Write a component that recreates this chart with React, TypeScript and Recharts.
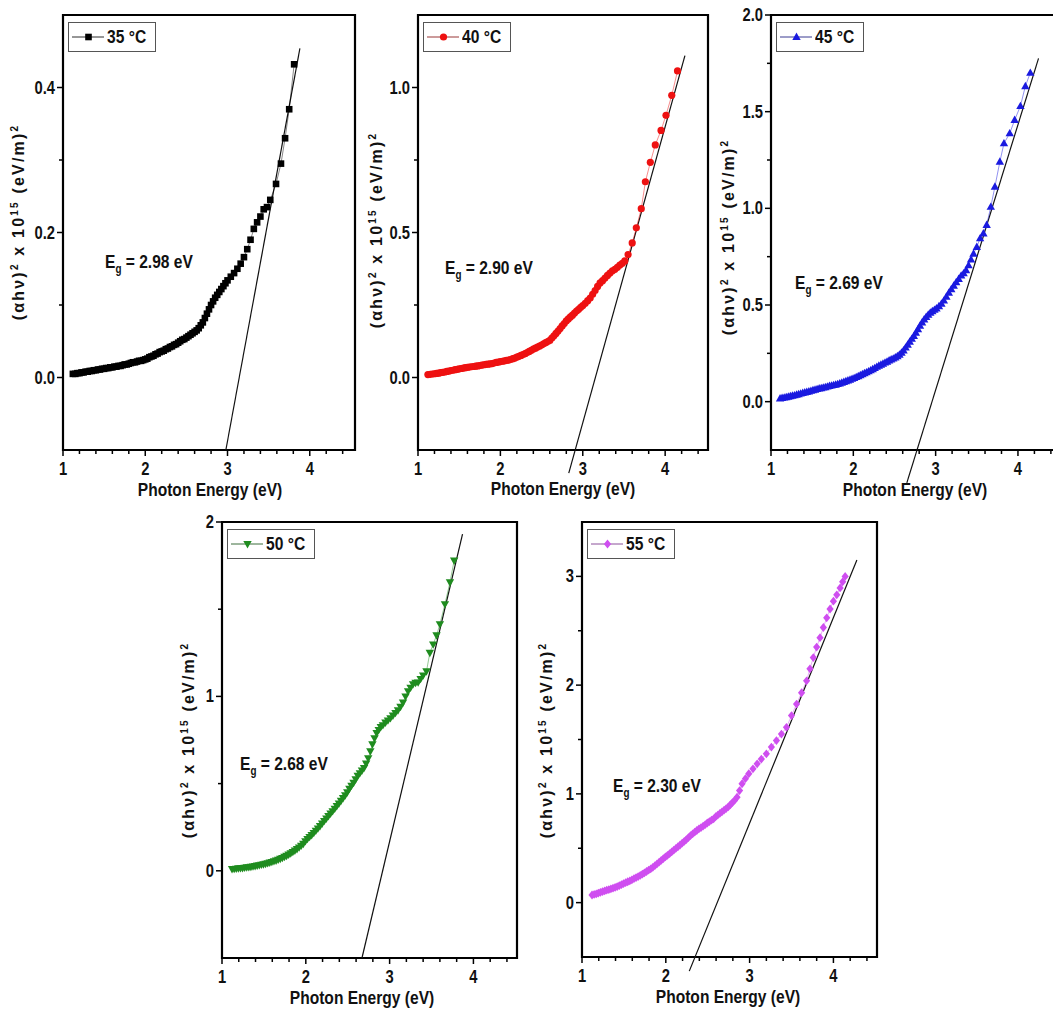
import { ScatterChart, Scatter, XAxis, YAxis, ReferenceLine, ReferenceArea, Legend } from "recharts"

const FONT = "'Liberation Sans', Arial, sans-serif"
const NARROW = 0.82

// [photon energy (eV), (αhν)² x 10^15]
const s35: [number, number][] = [
  [1.12, 0.005], [1.15, 0.005], [1.175, 0.006], [1.2, 0.006], [1.225, 0.007], [1.25, 0.007], [1.275, 0.008], [1.3, 0.008],
  [1.325, 0.009], [1.35, 0.009], [1.375, 0.01], [1.4, 0.01], [1.425, 0.011], [1.45, 0.011], [1.475, 0.012], [1.5, 0.012],
  [1.525, 0.013], [1.55, 0.013], [1.575, 0.014], [1.6, 0.014], [1.625, 0.015], [1.65, 0.015], [1.675, 0.016], [1.7, 0.016],
  [1.725, 0.017], [1.75, 0.018], [1.775, 0.018], [1.8, 0.019], [1.825, 0.02], [1.85, 0.021], [1.875, 0.021], [1.9, 0.022],
  [1.925, 0.023], [1.95, 0.023], [1.975, 0.024], [2.0, 0.025], [2.025, 0.026], [2.05, 0.028], [2.075, 0.029], [2.1, 0.03],
  [2.125, 0.032], [2.15, 0.033], [2.175, 0.035], [2.2, 0.036], [2.225, 0.037], [2.25, 0.039], [2.275, 0.04], [2.3, 0.042],
  [2.325, 0.043], [2.35, 0.045], [2.375, 0.046], [2.4, 0.048], [2.425, 0.05], [2.45, 0.052], [2.475, 0.053], [2.5, 0.055],
  [2.525, 0.057], [2.55, 0.059], [2.575, 0.061], [2.6, 0.063], [2.625, 0.065], [2.65, 0.068], [2.675, 0.072], [2.7, 0.076],
  [2.725, 0.082], [2.75, 0.088], [2.775, 0.094], [2.8, 0.1], [2.825, 0.105], [2.85, 0.11], [2.875, 0.114], [2.9, 0.118],
  [2.925, 0.122], [2.95, 0.126], [2.975, 0.13], [3.0, 0.134], [3.04, 0.139], [3.08, 0.144], [3.12, 0.15], [3.16, 0.157],
  [3.2, 0.166], [3.24, 0.177], [3.28, 0.19], [3.32, 0.205], [3.36, 0.214], [3.4, 0.222], [3.44, 0.232], [3.48, 0.235],
  [3.52, 0.245], [3.59, 0.267], [3.65, 0.295], [3.7, 0.33], [3.75, 0.37], [3.81, 0.432],
]

const s40: [number, number][] = [
  [1.12, 0.01], [1.15, 0.011], [1.175, 0.012], [1.2, 0.013], [1.225, 0.014], [1.25, 0.015], [1.275, 0.017], [1.3, 0.018],
  [1.325, 0.019], [1.35, 0.021], [1.375, 0.022], [1.4, 0.024], [1.425, 0.025], [1.45, 0.027], [1.475, 0.028], [1.5, 0.03],
  [1.525, 0.031], [1.55, 0.032], [1.575, 0.034], [1.6, 0.035], [1.625, 0.036], [1.65, 0.037], [1.675, 0.038], [1.7, 0.039],
  [1.725, 0.04], [1.75, 0.041], [1.775, 0.043], [1.8, 0.044], [1.825, 0.045], [1.85, 0.046], [1.875, 0.047], [1.9, 0.048],
  [1.925, 0.05], [1.95, 0.052], [1.975, 0.053], [2.0, 0.055], [2.025, 0.056], [2.05, 0.057], [2.075, 0.059], [2.1, 0.06],
  [2.125, 0.062], [2.15, 0.065], [2.175, 0.067], [2.2, 0.07], [2.225, 0.073], [2.25, 0.076], [2.275, 0.079], [2.3, 0.082],
  [2.325, 0.086], [2.35, 0.09], [2.375, 0.094], [2.4, 0.098], [2.425, 0.101], [2.45, 0.105], [2.475, 0.108], [2.5, 0.112],
  [2.525, 0.116], [2.55, 0.12], [2.575, 0.124], [2.6, 0.128], [2.625, 0.136], [2.65, 0.144], [2.675, 0.152], [2.7, 0.16],
  [2.725, 0.169], [2.75, 0.178], [2.775, 0.186], [2.8, 0.195], [2.825, 0.202], [2.85, 0.209], [2.875, 0.215], [2.9, 0.222],
  [2.925, 0.229], [2.95, 0.235], [2.975, 0.242], [3.0, 0.248], [3.03, 0.256], [3.06, 0.265], [3.09, 0.274], [3.12, 0.287],
  [3.15, 0.3], [3.18, 0.314], [3.21, 0.326], [3.24, 0.334], [3.27, 0.343], [3.3, 0.352], [3.33, 0.36], [3.36, 0.368],
  [3.39, 0.373], [3.42, 0.38], [3.45, 0.388], [3.48, 0.394], [3.51, 0.402], [3.55, 0.424], [3.6, 0.464], [3.65, 0.516],
  [3.71, 0.582], [3.76, 0.675], [3.82, 0.742], [3.88, 0.802], [3.95, 0.852], [4.01, 0.904], [4.08, 0.973], [4.15, 1.057],
]

const s45: [number, number][] = [
  [1.11, 0.017], [1.135, 0.019], [1.16, 0.021], [1.185, 0.023], [1.21, 0.026], [1.235, 0.028], [1.26, 0.031], [1.285, 0.033],
  [1.31, 0.036], [1.335, 0.039], [1.36, 0.042], [1.385, 0.045], [1.41, 0.048], [1.435, 0.05], [1.46, 0.053], [1.485, 0.056],
  [1.51, 0.059], [1.535, 0.062], [1.56, 0.065], [1.585, 0.068], [1.61, 0.07], [1.635, 0.073], [1.66, 0.075], [1.685, 0.078],
  [1.71, 0.081], [1.735, 0.083], [1.76, 0.086], [1.785, 0.088], [1.81, 0.091], [1.835, 0.094], [1.86, 0.098], [1.885, 0.102],
  [1.91, 0.106], [1.935, 0.11], [1.96, 0.114], [1.985, 0.118], [2.01, 0.122], [2.035, 0.127], [2.06, 0.132], [2.085, 0.137],
  [2.11, 0.142], [2.135, 0.147], [2.16, 0.152], [2.185, 0.157], [2.21, 0.162], [2.235, 0.168], [2.26, 0.174], [2.285, 0.18],
  [2.31, 0.186], [2.335, 0.191], [2.36, 0.196], [2.385, 0.202], [2.41, 0.207], [2.435, 0.213], [2.46, 0.218], [2.485, 0.223],
  [2.51, 0.229], [2.535, 0.235], [2.56, 0.243], [2.585, 0.253], [2.61, 0.265], [2.635, 0.28], [2.66, 0.295], [2.685, 0.31],
  [2.71, 0.325], [2.735, 0.34], [2.76, 0.357], [2.785, 0.375], [2.81, 0.393], [2.835, 0.41], [2.86, 0.425], [2.885, 0.438],
  [2.91, 0.45], [2.935, 0.46], [2.96, 0.468], [2.985, 0.475], [3.01, 0.482], [3.04, 0.494], [3.07, 0.507], [3.1, 0.523],
  [3.13, 0.543], [3.16, 0.563], [3.19, 0.582], [3.22, 0.6], [3.25, 0.618], [3.28, 0.635], [3.31, 0.652], [3.34, 0.664],
  [3.37, 0.68], [3.4, 0.705], [3.43, 0.735], [3.46, 0.765], [3.5, 0.8], [3.54, 0.845], [3.58, 0.87], [3.62, 0.914],
  [3.67, 1.008], [3.72, 1.112], [3.78, 1.241], [3.83, 1.336], [3.9, 1.388], [3.96, 1.457], [4.03, 1.529], [4.09, 1.632],
  [4.15, 1.701],
]

const s50: [number, number][] = [
  [1.12, 0.01], [1.145, 0.011], [1.17, 0.012], [1.195, 0.014], [1.22, 0.015], [1.245, 0.016], [1.27, 0.018], [1.295, 0.02],
  [1.32, 0.021], [1.345, 0.023], [1.37, 0.025], [1.395, 0.027], [1.42, 0.03], [1.445, 0.032], [1.47, 0.035], [1.495, 0.037],
  [1.52, 0.04], [1.545, 0.044], [1.57, 0.047], [1.595, 0.051], [1.62, 0.055], [1.645, 0.059], [1.67, 0.064], [1.695, 0.069],
  [1.72, 0.074], [1.745, 0.08], [1.77, 0.086], [1.795, 0.093], [1.82, 0.1], [1.845, 0.108], [1.87, 0.116], [1.895, 0.125],
  [1.92, 0.134], [1.945, 0.144], [1.97, 0.155], [1.995, 0.17], [2.02, 0.183], [2.045, 0.194], [2.07, 0.205], [2.095, 0.217],
  [2.12, 0.23], [2.145, 0.243], [2.17, 0.257], [2.195, 0.271], [2.22, 0.286], [2.245, 0.3], [2.27, 0.314], [2.295, 0.328],
  [2.32, 0.342], [2.345, 0.356], [2.37, 0.371], [2.395, 0.386], [2.42, 0.401], [2.445, 0.417], [2.47, 0.433], [2.495, 0.45],
  [2.52, 0.47], [2.545, 0.488], [2.57, 0.505], [2.595, 0.525], [2.62, 0.545], [2.645, 0.56], [2.67, 0.575], [2.695, 0.59],
  [2.72, 0.615], [2.745, 0.645], [2.77, 0.685], [2.795, 0.725], [2.82, 0.76], [2.845, 0.79], [2.87, 0.808], [2.895, 0.825],
  [2.92, 0.835], [2.95, 0.85], [2.98, 0.862], [3.01, 0.875], [3.04, 0.89], [3.07, 0.905], [3.1, 0.92], [3.13, 0.94],
  [3.16, 0.965], [3.19, 1.0], [3.22, 1.03], [3.25, 1.05], [3.28, 1.07], [3.31, 1.078], [3.34, 1.08], [3.37, 1.1],
  [3.4, 1.12], [3.44, 1.144], [3.48, 1.25], [3.52, 1.298], [3.56, 1.35], [3.6, 1.414], [3.66, 1.529], [3.72, 1.654],
  [3.77, 1.779],
]

const s55: [number, number][] = [
  [1.12, 0.07], [1.145, 0.075], [1.17, 0.08], [1.195, 0.088], [1.22, 0.095], [1.245, 0.102], [1.27, 0.108], [1.295, 0.115],
  [1.32, 0.12], [1.345, 0.127], [1.37, 0.133], [1.395, 0.14], [1.42, 0.148], [1.445, 0.156], [1.47, 0.165], [1.495, 0.174],
  [1.52, 0.183], [1.545, 0.192], [1.57, 0.2], [1.595, 0.21], [1.62, 0.22], [1.645, 0.23], [1.67, 0.24], [1.695, 0.25],
  [1.72, 0.262], [1.745, 0.274], [1.77, 0.286], [1.795, 0.298], [1.82, 0.31], [1.845, 0.325], [1.87, 0.34], [1.895, 0.356],
  [1.92, 0.372], [1.945, 0.388], [1.97, 0.404], [1.995, 0.42], [2.02, 0.435], [2.045, 0.45], [2.07, 0.466], [2.095, 0.482],
  [2.12, 0.498], [2.145, 0.514], [2.17, 0.53], [2.195, 0.547], [2.22, 0.563], [2.245, 0.58], [2.27, 0.598], [2.295, 0.617],
  [2.32, 0.633], [2.345, 0.648], [2.37, 0.663], [2.395, 0.678], [2.42, 0.69], [2.445, 0.703], [2.47, 0.717], [2.495, 0.732],
  [2.52, 0.745], [2.545, 0.758], [2.57, 0.77], [2.595, 0.79], [2.62, 0.805], [2.645, 0.82], [2.67, 0.835], [2.695, 0.85],
  [2.72, 0.865], [2.745, 0.88], [2.77, 0.9], [2.795, 0.92], [2.82, 0.94], [2.85, 0.97], [2.88, 1.03], [2.91, 1.093],
  [2.95, 1.14], [2.99, 1.185], [3.04, 1.23], [3.09, 1.276], [3.14, 1.32], [3.2, 1.368], [3.26, 1.43], [3.32, 1.49],
  [3.38, 1.55], [3.44, 1.612], [3.5, 1.72], [3.56, 1.826], [3.62, 1.93], [3.68, 2.04], [3.72, 2.15], [3.76, 2.253],
  [3.8, 2.35], [3.84, 2.436], [3.88, 2.53], [3.92, 2.619], [3.96, 2.7], [4.0, 2.772], [4.04, 2.83], [4.08, 2.894],
  [4.11, 2.95], [4.14, 3.0],
]

// linear fits (two end points each)
const fit35 = [[2.98, -0.1], [3.88, 0.454]]
const fit40 = [[2.83, -0.33], [4.24, 1.11]]
const fit45 = [[2.65, -0.42], [4.25, 1.776]]
const fit50 = [[2.67, -0.5], [3.87, 1.93]]
const fit55 = [[2.28, -0.63], [4.28, 3.15]]

const xTicks = [1, 1.2, 1.4, 1.6, 1.8, 2, 2.2, 2.4, 2.6, 2.8, 3, 3.2, 3.4, 3.6, 3.8, 4, 4.2, 4.4]
const yTicks35 = [0, 0.1, 0.2, 0.3, 0.4]
const yTicks40 = [0, 0.25, 0.5, 0.75, 1.0]
const yTicks45 = [0, 0.25, 0.5, 0.75, 1.0, 1.25, 1.5, 1.75, 2.0]
const yTicks50 = [0, 0.5, 1, 1.5, 2]
const yTicks55 = [0, 0.5, 1, 1.5, 2, 2.5, 3]
const yMajor35 = [0, 0.2, 0.4]
const yMajor40 = [0, 0.5, 1.0]
const yMajor45 = [0, 0.5, 1.0, 1.5, 2.0]
const yMajor50 = [0, 1, 2]
const yMajor55 = [0, 1, 2, 3]

const toPoints = (pts: [number, number][]) => pts.map(([x, y]) => ({ x, y }))

function Marker({ kind, cx, cy, color }: { kind: string; cx: number; cy: number; color: string }) {
  if (kind === "square") return <rect x={cx - 3.3} y={cy - 3.3} width={6.6} height={6.6} fill={color} />
  if (kind === "circle") return <circle cx={cx} cy={cy} r={3.6} fill={color} />
  if (kind === "up") return <polygon points={`${cx},${cy - 4.4} ${cx + 4.2},${cy + 3} ${cx - 4.2},${cy + 3}`} fill={color} />
  if (kind === "down") return <polygon points={`${cx},${cy + 4.4} ${cx + 4.2},${cy - 3} ${cx - 4.2},${cy - 3}`} fill={color} />
  return <polygon points={`${cx},${cy - 4.4} ${cx + 3.6},${cy} ${cx},${cy + 4.4} ${cx - 3.6},${cy}`} fill={color} />
}

// bold condensed text (no narrow font installed, so squeeze it)
function NText({ x, y, anchor = "start", size, children }: any) {
  return (
    <g transform={`translate(${x} ${y}) scale(${NARROW} 1)`}>
      <text x={0} y={0} textAnchor={anchor} fontFamily={FONT} fontWeight="bold" fontSize={size} fill="#111">
        {children}
      </text>
    </g>
  )
}

const XTick = (props: any) => {
  const { x, y, payload } = props
  const v = payload.value
  const major = Math.abs(v - Math.round(v)) < 1e-6
  return (
    <g>
      <line x1={x} y1={y} x2={x} y2={y + (major ? 6 : 4)} stroke="#000" strokeWidth={1.5} />
      {major && (
        <NText x={x} y={y + 25} anchor="middle" size={18}>
          {Math.round(v)}
        </NText>
      )}
    </g>
  )
}

const makeYTick = (majors: number[], digits: number) => (props: any) => {
  const { x, y, payload } = props
  const v = payload.value
  const major = majors.some((m) => Math.abs(m - v) < 1e-6)
  return (
    <g>
      <line x1={x} y1={y} x2={x - (major ? 6 : 4)} y2={y} stroke="#000" strokeWidth={1.5} />
      {major && (
        <NText x={x - 8} y={y + 6} anchor="end" size={18}>
          {v.toFixed(digits)}
        </NText>
      )}
    </g>
  )
}

type PanelProps = {
  left: number
  top: number
  w: number
  h: number
  xMax: number
  yMin: number
  yMax: number
  yTicks: number[]
  yMajor: number[]
  digits: number
  data: { x: number; y: number }[]
  fit: number[][]
  color: string
  kind: string
  name: string
}

function Panel(p: PanelProps) {
  const YTick = makeYTick(p.yMajor, p.digits)
  return (
    <div style={{ position: "absolute", left: p.left - 60, top: p.top - 10 }}>
      <ScatterChart width={p.w + 70} height={p.h + 70} margin={{ top: 10, right: 10, left: 0, bottom: 0 }}>
        <XAxis
          type="number"
          dataKey="x"
          domain={[1, p.xMax]}
          ticks={xTicks}
          interval={0}
          allowDataOverflow
          height={60}
          tickSize={0}
          tickMargin={0}
          tickLine={false}
          axisLine={false}
          tick={<XTick />}
        />
        <YAxis
          type="number"
          dataKey="y"
          domain={[p.yMin, p.yMax]}
          ticks={p.yTicks}
          interval={0}
          allowDataOverflow
          width={60}
          tickSize={0}
          tickMargin={0}
          tickLine={false}
          axisLine={false}
          tick={<YTick />}
        />
        <Scatter
          data={p.data}
          isAnimationActive={false}
          line={{ stroke: p.color, strokeWidth: 0.8, strokeOpacity: 0.6 }}
          shape={(s: any) => <Marker kind={p.kind} cx={s.cx} cy={s.cy} color={p.color} />}
        />
        <ReferenceLine
          segment={[
            { x: p.fit[0][0], y: p.fit[0][1] },
            { x: p.fit[1][0], y: p.fit[1][1] },
          ]}
          stroke="#111"
          strokeWidth={1.2}
          ifOverflow="visible"
        />
        <ReferenceArea
          x1={1}
          x2={p.xMax}
          y1={p.yMin}
          y2={p.yMax}
          fill="none"
          stroke="#000"
          strokeWidth={2.2}
          ifOverflow="visible"
        />
        <Legend
          layout="horizontal"
          verticalAlign="middle"
          align="center"
          wrapperStyle={{ position: "absolute", left: 65, top: 17, width: "auto" }}
          content={() => (
            <div
              style={{
                border: "1px solid #555",
                background: "#fff",
                width: 88,
                height: 30,
                boxSizing: "border-box",
                display: "flex",
                alignItems: "center",
              }}
            >
              <svg width={40} height={28}>
                <line x1={3} x2={36} y1={14} y2={14} stroke={p.color} strokeOpacity={0.6} strokeWidth={1} />
                <line x1={3} x2={36} y1={14} y2={14} stroke="#444" strokeOpacity={0.5} strokeWidth={1} />
                <Marker kind={p.kind} cx={19.5} cy={14} color={p.color} />
              </svg>
              <span
                style={{
                  display: "inline-block",
                  marginLeft: 3,
                  transform: `scaleX(${NARROW})`,
                  transformOrigin: "left center",
                  whiteSpace: "nowrap",
                  fontFamily: FONT,
                  fontWeight: "bold",
                  fontSize: 19,
                  color: "#111",
                }}
              >
                {p.name}
              </span>
            </div>
          )}
        />
      </ScatterChart>
    </div>
  )
}

function YLabel({ x, y }: { x: number; y: number }) {
  return (
    <text
      transform={`translate(${x},${y}) rotate(-90)`}
      textAnchor="middle"
      fontFamily={FONT}
      fontWeight="bold"
      fontSize={16}
      letterSpacing={2.2}
      fill="#111"
    >
      (αhν)
      <tspan dy={-6} fontSize={10}>
        2
      </tspan>
      <tspan dy={6}> x 10</tspan>
      <tspan dy={-6} fontSize={10}>
        15
      </tspan>
      <tspan dy={6}> (eV/m)</tspan>
      <tspan dy={-6} fontSize={10}>
        2
      </tspan>
    </text>
  )
}

function XLabel({ x, y }: { x: number; y: number }) {
  return (
    <NText x={x} y={y} anchor="middle" size={19}>
      Photon Energy (eV)
    </NText>
  )
}

function Eg({ x, y, value }: { x: number; y: number; value: string }) {
  return (
    <NText x={x} y={y} size={19}>
      E
      <tspan dy={5} fontSize={12}>
        g
      </tspan>
      <tspan dy={-5}> = {value} eV</tspan>
    </NText>
  )
}

export default function App() {
  return (
    <div
      style={{
        position: "absolute",
        left: 0,
        top: 0,
        width: 1053,
        height: 1010,
        overflow: "hidden",
        background: "#fff",
      }}
    >
      <Panel left={63} top={15} w={292} h={435} xMax={4.55} yMin={-0.1} yMax={0.5} yTicks={yTicks35} yMajor={yMajor35} digits={1} data={toPoints(s35)} fit={fit35} color="#000000" kind="square" name="35 °C" />
      <Panel left={418} top={15} w={290} h={435} xMax={4.52} yMin={-0.25} yMax={1.25} yTicks={yTicks40} yMajor={yMajor40} digits={1} data={toPoints(s40)} fit={fit40} color="#ee1111" kind="circle" name="40 °C" />
      <Panel left={771} top={15} w={284} h={435} xMax={4.45} yMin={-0.25} yMax={2.0} yTicks={yTicks45} yMajor={yMajor45} digits={1} data={toPoints(s45)} fit={fit45} color="#1a1ae0" kind="up" name="45 °C" />
      <Panel left={222} top={522} w={295} h={436} xMax={4.52} yMin={-0.5} yMax={2} yTicks={yTicks50} yMajor={yMajor50} digits={0} data={toPoints(s50)} fit={fit50} color="#1f8c1f" kind="down" name="50 °C" />
      <Panel left={582} top={522} w={295} h={435} xMax={4.52} yMin={-0.5} yMax={3.5} yTicks={yTicks55} yMajor={yMajor55} digits={0} data={toPoints(s55)} fit={fit55} color="#cf4ef0" kind="diamond" name="55 °C" />
      <svg width={1053} height={1010} style={{ position: "absolute", left: 0, top: 0, pointerEvents: "none" }}>
        <YLabel x={24} y={222} />
        <YLabel x={382} y={230} />
        <YLabel x={734} y={237} />
        <YLabel x={194} y={740} />
        <YLabel x={552} y={740} />
        <XLabel x={210} y={496} />
        <XLabel x={563} y={495} />
        <XLabel x={915} y={496} />
        <XLabel x={362} y={1004} />
        <XLabel x={728} y={1003} />
        <Eg x={105} y={268} value="2.98" />
        <Eg x={445} y={274} value="2.90" />
        <Eg x={795} y={289} value="2.69" />
        <Eg x={240} y={770} value="2.68" />
        <Eg x={613} y={792} value="2.30" />
      </svg>
    </div>
  )
}
